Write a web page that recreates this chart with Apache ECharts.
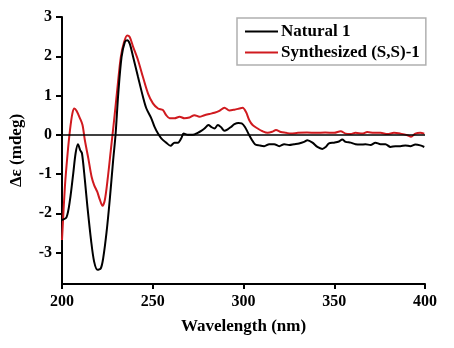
<!DOCTYPE html>
<html>
<head>
<meta charset="utf-8">
<script src="https://cdn.jsdelivr.net/npm/echarts@6/dist/echarts.min.js"></script>
<style>
html,body{margin:0;padding:0;background:#fff;}
#main{width:454px;height:348px;}
</style>
</head>
<body>
<div id="main"></div>
<script>
//数据 Natural 1
var naturalWl = [200,202.5,204.4,206.2,207.5,208.8,210,211,212.6,214,216,217.7,219.6,221.4,222.7,224.5,226.3,228.2,229.5,231,232.8,234.6,235.9,237.3,239.2,241.9,244.6,246.5,249.2,251,252.9,254.7,257.4,259.8,262,263.9,265.7,267,269.4,272.1,274.8,276.7,278.5,280.7,282.2,284,285.9,287.7,289.5,291.3,293.1,295,297.2,299,300.8,302.7,304.5,306.3,308.7,311.4,314.2,316.9,319.7,322.4,325.2,327.9,330.6,333.4,335.2,338,340.7,343.4,345.3,347.1,349.9,352.6,354.4,356.3,359,361.7,364.5,367.2,370,372.7,375.5,378.2,381,383.7,386.4,389.2,391.9,394.7,397.4,399.6];
var naturalDe = [-2.17,-2.1,-1.66,-0.98,-0.47,-0.24,-0.39,-0.47,-1.15,-1.83,-2.68,-3.23,-3.44,-3.4,-3.14,-2.5,-1.66,-0.64,0,1.05,1.98,2.36,2.41,2.32,1.98,1.47,0.97,0.67,0.42,0.2,0.03,-0.09,-0.2,-0.28,-0.2,-0.2,-0.09,0.03,0,0,0.05,0.1,0.16,0.25,0.2,0.16,0.25,0.19,0.1,0.14,0.2,0.27,0.3,0.29,0.2,0.03,-0.12,-0.24,-0.27,-0.29,-0.24,-0.24,-0.29,-0.24,-0.26,-0.24,-0.22,-0.18,-0.14,-0.2,-0.31,-0.36,-0.31,-0.22,-0.2,-0.17,-0.12,-0.18,-0.2,-0.24,-0.25,-0.24,-0.26,-0.2,-0.24,-0.24,-0.31,-0.29,-0.29,-0.27,-0.29,-0.25,-0.27,-0.31];

//数据 Synthesized (S,S)-1
var synthWl = [200,201.6,203.1,204.4,205.7,206.8,208,209.9,211.3,212.6,214.5,216.3,217.7,219.4,220.9,222.3,223.6,225.1,226.9,228.7,230.6,232.4,234.2,235.9,237.3,239.2,241.9,244.6,247.4,250.1,252.9,255.6,257.4,259.3,262,264.8,267.5,270.2,273,275.7,278.5,281.2,284,286.7,289.5,292.2,295,297.7,299.5,301.4,303.2,305,307.8,310.5,313.3,316,317.9,320.6,323.4,326.1,330,335,340,345,350,353.5,356.3,359,361.7,365.4,368.2,371.8,375.5,379.3,382.9,386.4,390.3,392.3,394.7,397.4,399.6];
var synthDe = [-2.68,-1.32,-0.47,0.12,0.54,0.67,0.61,0.42,0.25,-0.14,-0.6,-1.07,-1.28,-1.45,-1.66,-1.81,-1.66,-1.15,-0.39,0.37,1.22,1.98,2.36,2.53,2.49,2.24,1.9,1.47,1.05,0.8,0.67,0.63,0.5,0.42,0.42,0.46,0.42,0.44,0.5,0.46,0.5,0.53,0.56,0.61,0.69,0.62,0.64,0.67,0.69,0.58,0.37,0.25,0.16,0.09,0.05,0.08,0.12,0.07,0.05,0.03,0.05,0.06,0.05,0.06,0.05,0.09,0.03,0.02,0.05,0.03,0.07,0.05,0.05,0.02,0.05,0.03,-0.01,-0.05,0.03,0.05,0.03];

//刻度
var xTicks = [200, 250, 300, 350, 400];
var yTicks = [-3, -2, -1, 0, 1, 2, 3];

function pairs(xs, ys) {
	return xs.map(function(x, i) {
		return [x, ys[i]];
	});
}

var font = 'Liberation Serif';
var myChart = echarts.init(document.getElementById('main'));
var option = {
	backgroundColor: '#fff',
	animation: false,
	grid: {
		left: 60,
		right: 29,
		top: 17,
		bottom: 64
	},
	legend: {
		left: 237,
		top: 18,
		orient: 'vertical',
		icon: 'rect',
		itemWidth: 33,
		itemHeight: 2,
		itemGap: 4,
		padding: [5, 6, 4, 8],
		borderColor: '#b0b0b0',
		borderWidth: 1.5,
		backgroundColor: '#fff',
		textStyle: {
			fontFamily: font,
			fontWeight: 'bold',
			fontSize: 17,
			lineHeight: 17,
			color: '#000',
			padding: [0, 0, 0, -2]
		},
		data: ['Natural 1', 'Synthesized (S,S)-1']
	},
	xAxis: {
		type: 'value',
		min: 200,
		max: 400,
		interval: 50,
		name: 'Wavelength (nm)',
		nameLocation: 'middle',
		nameGap: 34,
		nameTextStyle: {
			fontFamily: font,
			fontWeight: 'bold',
			fontSize: 17,
			color: '#000'
		},
		axisLine: { onZero: false, lineStyle: { color: '#000', width: 2 } },
		axisTick: { inside: false, length: 5, lineStyle: { color: '#000', width: 2 } },
		axisLabel: {
			margin: 10,
			fontFamily: font,
			fontWeight: 'bold',
			fontSize: 16,
			color: '#000',
			customValues: xTicks
		},
		splitLine: { show: false }
	},
	yAxis: {
		type: 'value',
		min: -3.8,
		max: 3,
		name: 'Δε (mdeg)',
		nameLocation: 'middle',
		nameGap: 37,
		nameRotate: 90,
		nameTextStyle: {
			fontFamily: font,
			fontWeight: 'bold',
			fontSize: 17,
			color: '#000'
		},
		axisLine: { show: true, onZero: false, lineStyle: { color: '#000', width: 2 } },
		axisTick: { show: true, length: 6, lineStyle: { color: '#000', width: 2 }, customValues: yTicks },
		axisLabel: {
			margin: 10,
			fontFamily: font,
			fontWeight: 'bold',
			fontSize: 16,
			color: '#000',
			customValues: yTicks
		},
		splitLine: { show: false }
	},
	series: [{
		name: 'Natural 1',
		type: 'line',
		symbol: 'none',
		smooth: 0.3,
		color: '#000',
		lineStyle: { color: '#000', width: 2 },
		data: pairs(naturalWl, naturalDe),
		z: 3,
		markLine: {
			silent: true,
			symbol: 'none',
			label: { show: false },
			lineStyle: { color: '#000', width: 1.5, type: 'solid' },
			data: [{ yAxis: 0 }]
		}
	}, {
		name: 'Synthesized (S,S)-1',
		type: 'line',
		symbol: 'none',
		smooth: 0.3,
		color: '#d01a1f',
		lineStyle: { color: '#d01a1f', width: 2 },
		data: pairs(synthWl, synthDe),
		z: 2
	}]
};
myChart.setOption(option);
</script>
</body>
</html>
